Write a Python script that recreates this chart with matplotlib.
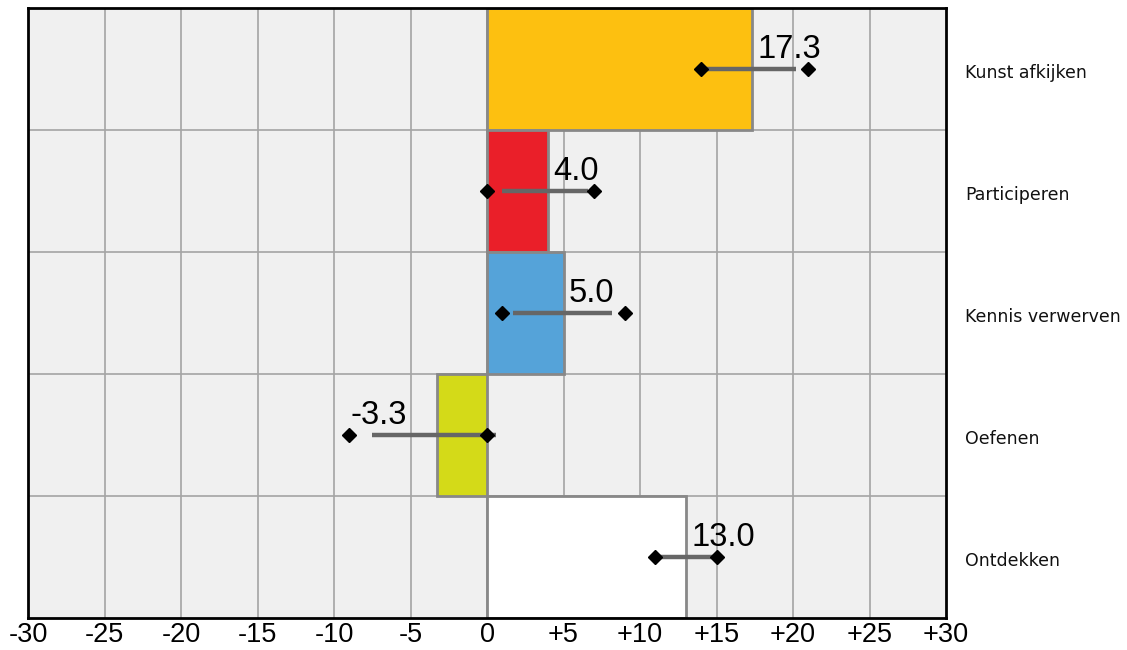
import matplotlib
matplotlib.use("Agg")
import matplotlib.pyplot as plt
from matplotlib.transforms import blended_transform_factory

categories = ["Kunst afkijken", "Participeren", "Kennis verwerven", "Oefenen", "Ontdekken"]
values = [17.3, 4.0, 5.0, -3.3, 13.0]
value_labels = ["17.3", "4.0", "5.0", "-3.3", "13.0"]
ci_low = [14.0, 0.0, 1.0, -9.0, 11.0]
ci_high = [21.0, 7.0, 9.0, 0.0, 15.0]
line_start = [14.0, 1.0, 1.7, -7.5, 11.2]
line_end = [20.2, 6.6, 8.2, 0.6, 14.9]
bar_colors = ["#FDC010", "#EA1F29", "#55A3D9", "#D4DA18", "#FFFFFF"]
xticks = [-30, -25, -20, -15, -10, -5, 0, 5, 10, 15, 20, 25, 30]
xtick_labels = ["-30", "-25", "-20", "-15", "-10", "-5", "0", "+5", "+10", "+15", "+20", "+25", "+30"]

fig = plt.figure(figsize=(11.27, 6.5), dpi=100)
ax = fig.add_axes([28/1127, 1-618/650, (946-28)/1127, (618-8)/650])
ax.set_facecolor("#F0F0F0")

n = len(categories)
ypos = list(range(n))
ax.set_xlim(-30, 30)
ax.set_ylim(n - 0.5, -0.5)

# grid
for x in xticks[1:-1]:
    ax.axvline(x, color="#A4A4A4", lw=1.2, zorder=1)
for i in range(1, n):
    ax.axhline(i - 0.5, color="#A4A4A4", lw=1.2, zorder=1)

ax.barh(ypos, values, height=1.0, color=bar_colors, edgecolor="#888888", linewidth=2, zorder=2)

for i in range(n):
    ax.plot([line_start[i], line_end[i]], [ypos[i], ypos[i]], color="#666666", lw=3.2,
            solid_capstyle="butt", zorder=3)
    ax.plot([ci_low[i], ci_high[i]], [ypos[i], ypos[i]], linestyle="none", marker="D",
            markersize=7.2, color="black", zorder=4)
    if values[i] >= 0:
        ax.text(values[i] + 0.35, ypos[i] - 0.09, value_labels[i], ha="left", va="baseline",
                fontsize=23.5, family="Liberation Sans", color="black", zorder=5)
    else:
        ax.text(values[i] - 1.95, ypos[i] - 0.09, value_labels[i], ha="right", va="baseline",
                fontsize=23.5, family="Liberation Sans", color="black", zorder=5)

trans = blended_transform_factory(ax.transAxes, ax.transData)
for i, c in enumerate(categories):
    ax.text(1.0205, ypos[i] + 0.035, c, transform=trans, ha="left", va="center", fontsize=12.5,
            family="DejaVu Sans", color="#111111")

ax.set_xticks(xticks)
ax.set_xticklabels(xtick_labels, fontsize=19.5, family="Liberation Sans")
ax.tick_params(axis="x", length=0, pad=3)
ax.set_yticks([])
for s in ax.spines.values():
    s.set_color("black")
    s.set_linewidth(2)
    s.set_zorder(6)

fig.savefig("out.png", dpi=100)
